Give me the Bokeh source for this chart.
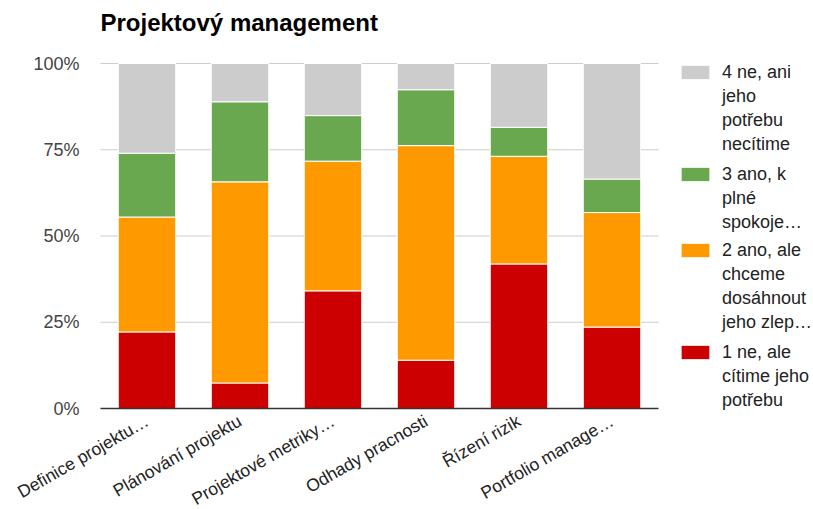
import math
from bokeh.plotting import figure
from bokeh.models import (ColumnDataSource, Range1d, FixedTicker,
                          PrintfTickFormatter, Legend, LegendItem, Label)
from bokeh.embed import file_html
from bokeh.resources import INLINE

categories = ["Definice projektu…", "Plánování projektu", "Projektové metriky…",
              "Odhady pracnosti", "Řízení rizik", "Portfolio manage…"]
red = [22.2, 7.4, 34.1, 14.0, 41.9, 23.6]
orange = [33.3, 58.3, 37.6, 62.2, 31.2, 33.2]
green = [18.5, 23.2, 13.2, 16.2, 8.4, 9.7]
grey = [26.0, 11.1, 15.1, 7.6, 18.5, 33.5]

series = ["s1", "s2", "s3", "s4"]
colors = ["#cc0000", "#ff9900", "#6aa84f", "#cccccc"]
legend_lines = [["1 ne, ale", "cítime jeho", "potřebu"],
                ["2 ano, ale", "chceme", "dosáhnout", "jeho zlep…"],
                ["3 ano, k", "plné", "spokoje…"],
                ["4 ne, ani", "jeho", "potřebu", "necítime"]]
yticks = [0, 25, 50, 75, 100]
title_text = "Projektový management"

FONT = "Liberation Sans"
W, H = 813, 509
LEFT, RIGHT, TOP, BOTTOM = 100, 658, 63, 408   # plot area in pixels
N = len(categories)
PX = (BOTTOM - TOP) / 100.0                    # pixels per percent
CW = (RIGHT - LEFT) / N                        # pixels per category

xpos = [i + 0.5 for i in range(N)]
src = ColumnDataSource(dict(x=xpos, cat=categories, s1=red, s2=orange, s3=green, s4=grey))

# the frame covers the whole canvas; ranges place the data area at the plot area
p = figure(x_range=Range1d(-LEFT / CW, (W - LEFT) / CW),
           y_range=Range1d(-(H - BOTTOM) / PX, 100 + TOP / PX),
           width=W, height=H, output_backend="svg", toolbar_location=None,
           min_border_left=0, min_border_right=0,
           min_border_top=0, min_border_bottom=0)
p.outline_line_color = None

# horizontal grid lines limited to the category area
p.segment(x0=[0] * len(yticks), x1=[N] * len(yticks), y0=yticks, y1=yticks,
          line_color="#cccccc", line_width=1, level="underlay")

rs = p.vbar_stack(series, x="x", width=0.618, source=src, color=colors,
                  line_color="white", line_width=1)

# transparent renderer used for continuation lines of legend labels
blank = p.vbar(x=[], top=[], width=0.5, fill_alpha=0, line_alpha=0)

# one legend per series so that the group gaps match
group_tops = [340, 238, 162, 60]
for i in range(4):
    lines = legend_lines[i]
    items = [LegendItem(label=lines[0], renderers=[rs[i]])]
    items += [LegendItem(label=t, renderers=[blank]) for t in lines[1:]]
    lg = Legend(items=items, location=(677, H - group_tops[i] - 24 * len(lines)),
                margin=0, padding=0, glyph_width=36, glyph_height=18, spacing=0,
                label_height=24, label_text_font=FONT, label_text_font_size="18px",
                label_text_color="#222222", label_standoff=9,
                border_line_color=None, background_fill_alpha=0)
    p.add_layout(lg)

p.add_layout(Label(x=LEFT, y=H - 22, x_units="screen", y_units="screen", text=title_text,
                   text_font=FONT, text_font_size="24px", text_font_style="bold",
                   text_color="#000000", text_baseline="middle", text_align="left"))

p.yaxis.fixed_location = 0
p.yaxis.ticker = FixedTicker(ticks=yticks)
p.yaxis.formatter = PrintfTickFormatter(format="%d%%")
p.yaxis.axis_line_color = None
p.yaxis.major_tick_line_color = None
p.yaxis.minor_tick_line_color = None
p.yaxis.major_label_standoff = 15
p.yaxis.major_label_text_font = FONT
p.yaxis.major_label_text_font_size = "18px"
p.yaxis.major_label_text_color = "#444444"

p.xaxis.fixed_location = 0
p.xaxis.bounds = (0, N)
p.xaxis.ticker = FixedTicker(ticks=xpos)
p.xaxis.major_label_overrides = {x: c for x, c in zip(xpos, categories)}
p.xaxis.axis_line_color = "#333333"
p.xaxis.axis_line_width = 1.5
p.xaxis.major_tick_line_color = None
p.xaxis.minor_tick_line_color = None
p.xaxis.major_label_orientation = math.pi / 6
p.xaxis.major_label_standoff = 5
p.xaxis.major_label_text_font = FONT
p.xaxis.major_label_text_font_size = "17.5px"
p.xaxis.major_label_text_color = "#222222"

p.xgrid.grid_line_color = None
p.ygrid.grid_line_color = None

open("out.html", "w").write(file_html(p, INLINE))
